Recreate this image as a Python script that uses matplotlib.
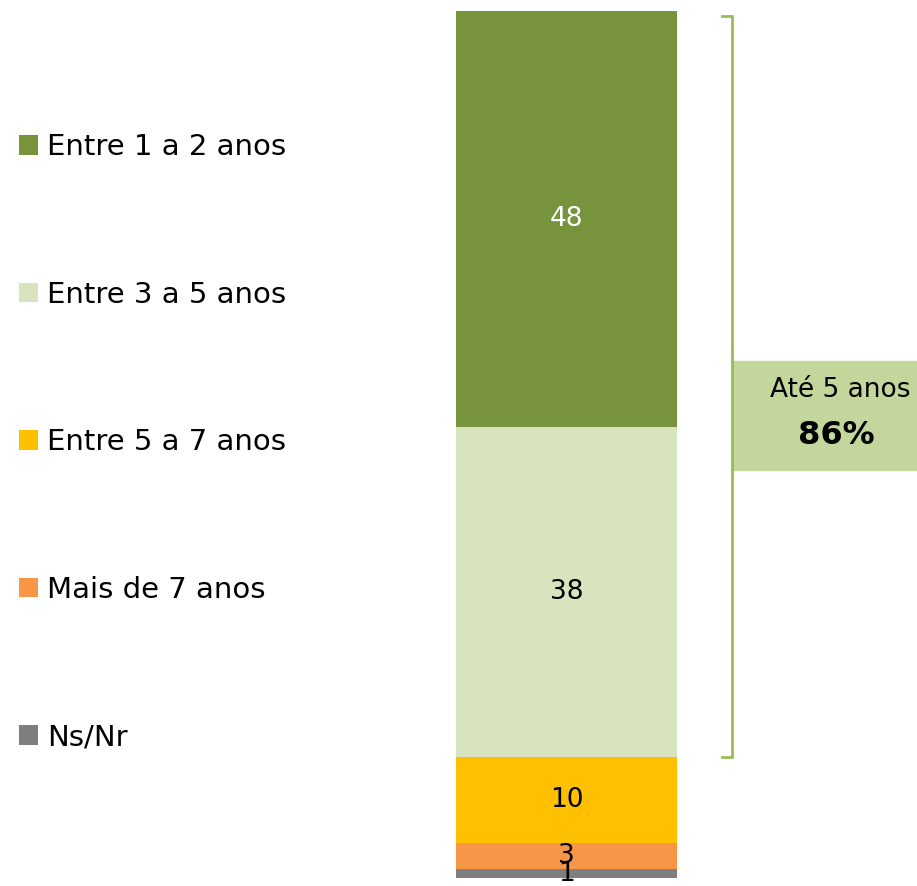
import matplotlib.pyplot as plt
from matplotlib.patches import Rectangle

# Data (stacked from bottom to top)
categories = ['Ns/Nr', 'Mais de 7 anos', 'Entre 5 a 7 anos', 'Entre 3 a 5 anos', 'Entre 1 a 2 anos']
values = [1, 3, 10, 38, 48]
colors = ['#7F7F7F', '#F79646', '#FFC000', '#D7E4BD', '#77933C']
label_colors = ['black', 'black', 'black', 'black', 'white']
bracket_label = 'Até 5 anos'
bracket_value = '86%'

W, H = 917, 886
fig = plt.figure(figsize=(W / 100, H / 100), dpi=100)
plt.rcParams['font.family'] = ['DejaVu Sans']

# axes spanning full width; y from bar bottom to bar top
bar_bottom, bar_top = 878, 11
ax = fig.add_axes([0, (H - bar_bottom) / H, 1, (bar_bottom - bar_top) / H])
ax.set_xlim(0, W)
ax.set_ylim(0, sum(values))
ax.axis('off')

bar_x, bar_w = 566.5, 221
bottom = 0
bars = []
for cat, v, c, lc in zip(categories, values, colors, label_colors):
    b = ax.bar(bar_x, v, width=bar_w, bottom=bottom, color=c, label=cat)
    bars.append(b)
    ax.text(bar_x, bottom + v / 2, str(v), ha='center', va='center',
            fontsize=19, color=lc, clip_on=False)
    bottom += v

# bracket around the first two groups
br_lo = values[0] + values[1] + values[2]
br_hi = sum(values) - 0.6
bx = 732
ax.plot([bx - 10, bx, bx, bx - 10], [br_lo, br_lo, br_hi, br_hi],
        color='#9BBB59', lw=2, solid_joinstyle='miter', clip_on=False)

# label box
ax.add_patch(Rectangle((bx, 47.1), 200, 12.5, color='#C3D69B', clip_on=False, zorder=1))
ax.text(840, 56.3, bracket_label, ha='center', va='center', fontsize=19, zorder=3)
ax.text(836, 51.0, bracket_value, ha='center', va='center', fontsize=23,
        fontweight='bold', zorder=3)

# legend, top segment first
handles = [b.patches[0] for b in bars][::-1]
labels = categories[::-1]
fig.legend(handles, labels, loc='upper left', bbox_to_anchor=(0.008, 0.863),
           frameon=False, fontsize=21, handlelength=0.65, handleheight=0.65,
           handletextpad=0.3, labelspacing=4.1, borderaxespad=0)

fig.savefig('out.png', dpi=100)
